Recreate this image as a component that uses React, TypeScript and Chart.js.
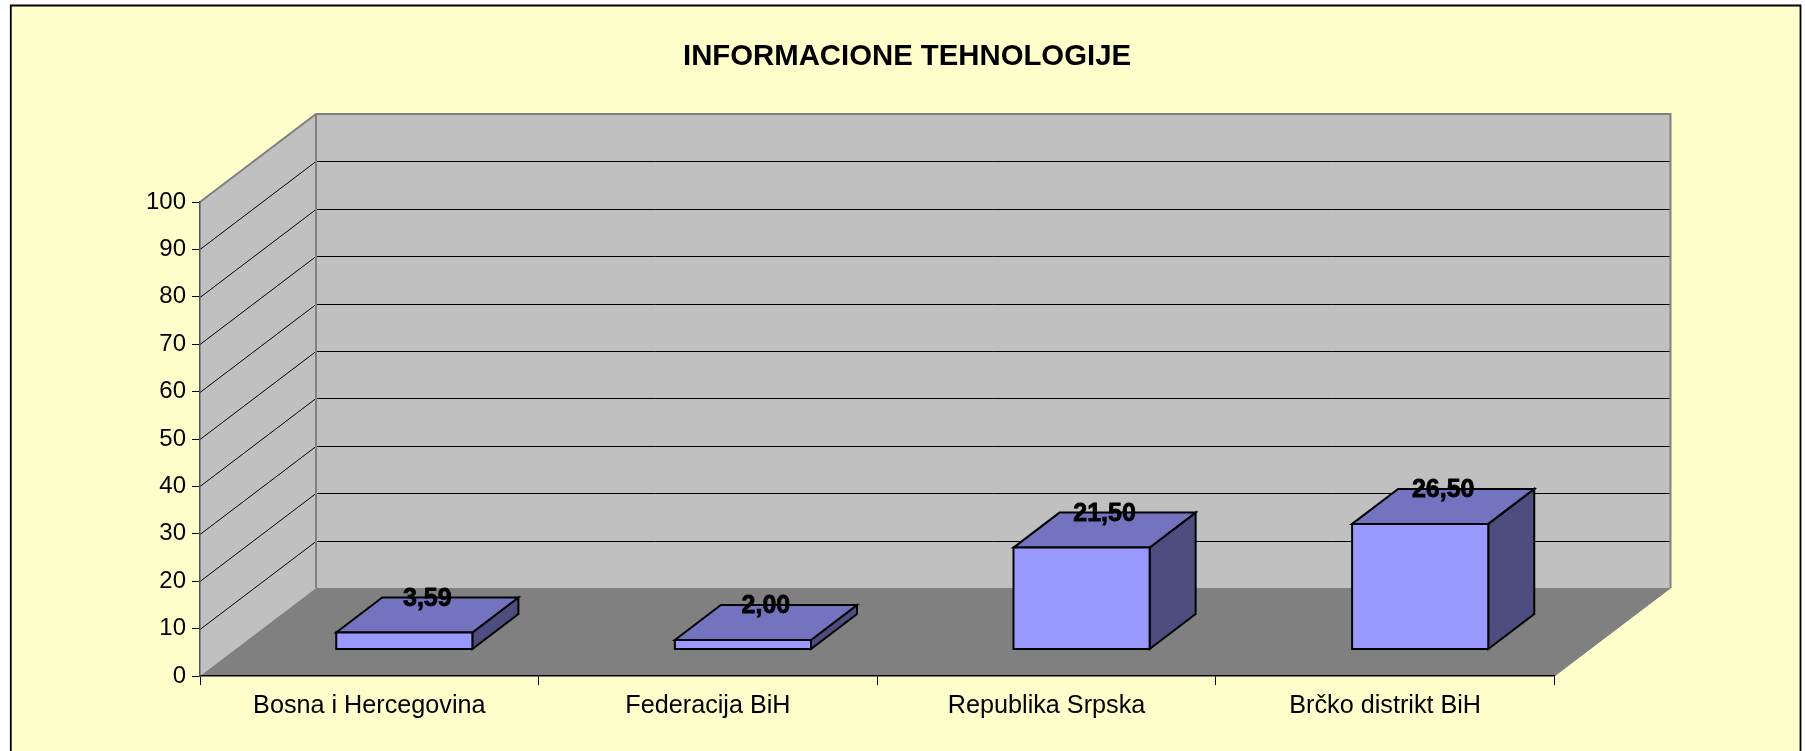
import React, { useEffect, useRef } from "react";
import { Chart, registerables } from "chart.js";

Chart.register(...registerables);

const TITLE = "INFORMACIONE TEHNOLOGIJE";
const categories = ["Bosna i Hercegovina", "Federacija BiH", "Republika Srpska", "Brčko distrikt BiH"];
const values = [3.59, 2.0, 21.5, 26.5];
const valueLabels = ["3,59", "2,00", "21,50", "26,50"];

const FONT = "'Liberation Sans', Arial, sans-serif";
const DEPTH_X = 116;
const DEPTH_Y = 88;
const BAR_DEPTH_X = 46;
const BAR_DEPTH_Y = 35;

const threeD = {
  id: "threeD",
  afterLayout(chart: any) {
    const t = chart.titleBlock;
    if (t) {
      const h = t.bottom - t.top;
      t.left = 683;
      t.right = 1131;
      t.top = 57 - h / 2;
      t.bottom = t.top + h;
    }
  },
  beforeDraw(chart: any) {
    const { ctx, chartArea: a, scales } = chart;
    const W = chart.width;
    const H = chart.height;
    ctx.save();
    ctx.fillStyle = "#ffffff";
    ctx.fillRect(0, 0, W, H);
    ctx.fillStyle = "#ffffcc";
    ctx.fillRect(10, 5, 1791, H);
    ctx.strokeStyle = "#000000";
    ctx.lineWidth = 1.8;
    ctx.beginPath();
    ctx.moveTo(10.8, H);
    ctx.lineTo(10.8, 5.5);
    ctx.lineTo(1800.5, 5.5);
    ctx.lineTo(1800.5, H);
    ctx.stroke();

    const poly = (pts: number[][], fill: string) => {
      ctx.beginPath();
      pts.forEach((p, i) => (i ? ctx.lineTo(p[0], p[1]) : ctx.moveTo(p[0], p[1])));
      ctx.closePath();
      ctx.fillStyle = fill;
      ctx.fill();
    };
    const { left: l, right: r, top: t, bottom: b } = a;
    // walls
    poly([[l, t], [l + DEPTH_X, t - DEPTH_Y], [l + DEPTH_X, b - DEPTH_Y], [l, b]], "#c0c0c0");
    poly([[l + DEPTH_X, t - DEPTH_Y], [r + DEPTH_X, t - DEPTH_Y], [r + DEPTH_X, b - DEPTH_Y], [l + DEPTH_X, b - DEPTH_Y]], "#c0c0c0");
    // floor
    poly([[l, b], [l + DEPTH_X, b - DEPTH_Y], [r + DEPTH_X, b - DEPTH_Y], [r, b]], "#808080");
    // gridlines on the walls
    ctx.strokeStyle = "#000000";
    ctx.lineWidth = 1;
    scales.y.ticks.forEach((tk: any) => {
      if (tk.value === 0 || tk.value === 100) return;
      const y = Math.round(scales.y.getPixelForValue(tk.value)) + 0.5;
      ctx.beginPath();
      ctx.moveTo(l, y);
      ctx.lineTo(l + DEPTH_X, y - DEPTH_Y);
      ctx.lineTo(r + DEPTH_X, y - DEPTH_Y);
      ctx.stroke();
    });
    // wall outlines
    ctx.strokeStyle = "#808080";
    ctx.lineWidth = 2;
    ctx.beginPath();
    ctx.moveTo(l, t);
    ctx.lineTo(l + DEPTH_X, t - DEPTH_Y);
    ctx.lineTo(r + DEPTH_X, t - DEPTH_Y);
    ctx.lineTo(r + DEPTH_X, b - DEPTH_Y);
    ctx.moveTo(l + DEPTH_X, t - DEPTH_Y);
    ctx.lineTo(l + DEPTH_X, b - DEPTH_Y);
    ctx.stroke();
    ctx.lineWidth = 1;
    ctx.beginPath();
    ctx.moveTo(r + DEPTH_X, b - DEPTH_Y);
    ctx.lineTo(r, b);
    ctx.stroke();
    ctx.restore();
  },
  beforeDatasetDraw(chart: any, args: any) {
    const { ctx } = chart;
    const sx = (DEPTH_X - BAR_DEPTH_X) / 2;
    const sy = (DEPTH_Y - BAR_DEPTH_Y) / 2;
    ctx.save();
    ctx.strokeStyle = "#000000";
    ctx.lineWidth = 2;
    ctx.lineJoin = "miter";
    args.meta.data.forEach((el: any) => {
      const x0 = el.x - el.width / 2 + sx;
      const x1 = el.x + el.width / 2 + sx;
      const yt = el.y - sy;
      const yb = el.base - sy;
      const face = (pts: number[][], fill: string) => {
        ctx.beginPath();
        pts.forEach((p, i) => (i ? ctx.lineTo(p[0], p[1]) : ctx.moveTo(p[0], p[1])));
        ctx.closePath();
        ctx.fillStyle = fill;
        ctx.fill();
        ctx.stroke();
      };
      face([[x1, yt], [x1 + BAR_DEPTH_X, yt - BAR_DEPTH_Y], [x1 + BAR_DEPTH_X, yb - BAR_DEPTH_Y], [x1, yb]], "#4d4d80");
      face([[x0, yt], [x0 + BAR_DEPTH_X, yt - BAR_DEPTH_Y], [x1 + BAR_DEPTH_X, yt - BAR_DEPTH_Y], [x1, yt]], "#7373bf");
      face([[x0, yt], [x1, yt], [x1, yb], [x0, yb]], "#9999ff");
    });
    ctx.restore();
    return false;
  },
  afterDatasetsDraw(chart: any) {
    const { ctx } = chart;
    const meta = chart.getDatasetMeta(0);
    const sx = (DEPTH_X - BAR_DEPTH_X) / 2;
    const sy = (DEPTH_Y - BAR_DEPTH_Y) / 2;
    ctx.save();
    ctx.font = `bold 25px ${FONT}`;
    ctx.textAlign = "center";
    ctx.textBaseline = "middle";
    ctx.fillStyle = "#000000";
    ctx.strokeStyle = "#000000";
    ctx.lineWidth = 0.8;
    meta.data.forEach((el: any, i: number) => {
      const x = el.x + sx + BAR_DEPTH_X / 2;
      const y = el.y - sy - BAR_DEPTH_Y + 1.5;
      ctx.fillText(valueLabels[i], x, y);
      ctx.strokeText(valueLabels[i], x, y);
    });
    ctx.restore();
  },
};

export default function App() {
  const ref = useRef<HTMLCanvasElement>(null);
  useEffect(() => {
    const chart = new Chart(ref.current as HTMLCanvasElement, {
      type: "bar",
      data: {
        labels: categories,
        datasets: [
          {
            label: TITLE,
            data: values,
            backgroundColor: "#9999ff",
            borderColor: "#000000",
            borderWidth: 1,
            categoryPercentage: 1,
            barPercentage: 0.402,
          },
        ],
      },
      options: {
        responsive: false,
        animation: false,
        devicePixelRatio: 1,
        layout: { padding: { left: 0, right: 250.5, top: 166.6, bottom: 0 } },
        plugins: {
          legend: { display: false },
          tooltip: { enabled: false },
          title: {
            display: true,
            text: TITLE,
            color: "#000000",
            font: { family: FONT, size: 29.5, weight: "bold" },
            padding: 0,
          },
        },
        scales: {
          x: {
            afterFit(s: any) {
              s.height = 75;
            },
            grid: { drawOnChartArea: false, drawTicks: true, tickLength: 9, color: "#000000", lineWidth: 1 },
            border: { display: true, color: "#000000", width: 1.5 },
            ticks: { color: "#000000", padding: 6, maxRotation: 0, font: { family: FONT, size: 25.2 } },
          },
          y: {
            min: 0,
            max: 100,
            afterFit(s: any) {
              s.width = 200;
            },
            grid: { drawOnChartArea: false, drawTicks: true, tickLength: 8, color: "#000000", lineWidth: 1 },
            border: { display: true, color: "#555555", width: 1.5 },
            ticks: { stepSize: 10, color: "#000000", padding: 6, font: { family: FONT, size: 24 } },
          },
        },
      },
      plugins: [threeD],
    } as any);
    return () => chart.destroy();
  }, []);
  return (
    <div style={{ position: "absolute", left: 0, top: 0, width: 1805, height: 751, overflow: "hidden" }}>
      <canvas ref={ref} width={1805} height={751} style={{ display: "block" }} />
    </div>
  );
}
